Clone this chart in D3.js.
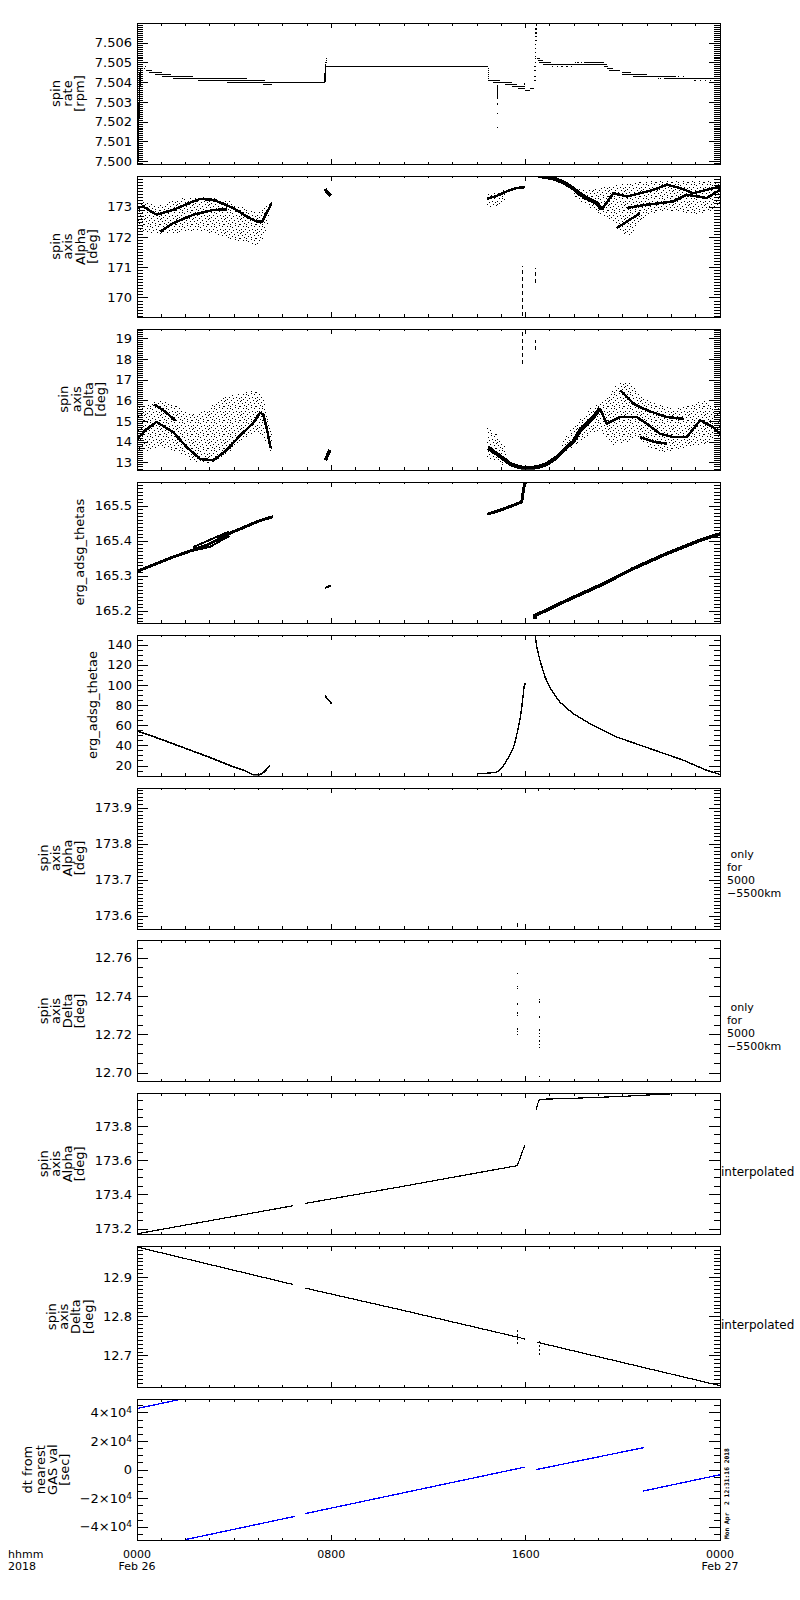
<!DOCTYPE html>
<html>
<head>
<meta charset="utf-8">
<script src="https://cdn.jsdelivr.net/npm/d3@7"></script>
<style>
  body { margin: 0; background: #fff; }
  svg { display: block; shape-rendering: crispEdges; }
  text { font-family: "DejaVu Sans", sans-serif; fill: #000; }
</style>
</head>
<body>
<script>
// time axis in hours from 2018-02-26 0000
const hourMajor = [0, 8, 16, 24];
const hourLabels = ["0000", "0800", "1600", "0000"];
const dayLabels = ["Feb 26", "", "", "Feb 27"];
const axisCaption = ["hhmm", "2018"];
const stamp = "Mon Apr  2 12:31:16 2018";

const titles = [
  ["spin", "rate", "[rpm]"],
  ["spin", "axis", "Alpha", "[deg]"],
  ["spin", "axis", "Delta", "[deg]"],
  ["erg_adsg_thetas"],
  ["erg_adsg_thetae"],
  ["spin", "axis", "Alpha", "[deg]"],
  ["spin", "axis", "Delta", "[deg]"],
  ["spin", "axis", "Alpha", "[deg]"],
  ["spin", "axis", "Delta", "[deg]"],
  ["dt from", "nearest", "GAS val", "[sec]"]
];
const sideLabels = [[], [], [], [], [],
  [" only", "for", "5000", "\u22125500km"],
  [" only", "for", "5000", "\u22125500km"],
  ["interpolated"], ["interpolated"], []];

const yDomains = [
  [7.49985, 7.507], [169.36, 174.01], [12.64, 19.45], [165.1655, 165.568], [10, 150],
  [173.564, 173.956], [12.6954, 12.769], [173.167, 173.99], [12.619, 12.979], [-49300, 49300]
];
const yTickValues = [
  [7.500, 7.501, 7.502, 7.503, 7.504, 7.505, 7.506],
  [170, 171, 172, 173],
  [13, 14, 15, 16, 17, 18, 19],
  [165.2, 165.3, 165.4, 165.5],
  [20, 40, 60, 80, 100, 120, 140],
  [173.6, 173.7, 173.8, 173.9],
  [12.70, 12.72, 12.74, 12.76],
  [173.2, 173.4, 173.6, 173.8],
  [12.7, 12.8, 12.9],
  [-40000, -20000, 0, 20000, 40000]
];
const yTickLabels = [
  ["7.500", "7.501", "7.502", "7.503", "7.504", "7.505", "7.506"],
  ["170", "171", "172", "173"],
  ["13", "14", "15", "16", "17", "18", "19"],
  ["165.2", "165.3", "165.4", "165.5"],
  ["20", "40", "60", "80", "100", "120", "140"],
  ["173.6", "173.7", "173.8", "173.9"],
  ["12.70", "12.72", "12.74", "12.76"],
  ["173.2", "173.4", "173.6", "173.8"],
  ["12.7", "12.8", "12.9"],
  ["\u22124\u00d710^4", "\u22122\u00d710^4", "0", "2\u00d710^4", "4\u00d710^4"]
];
const yMinorStep = [0.0001, 0.1, 0.1, 0.01, 5, 0.01, 0.005, 0.05, 0.01, 5000];

// panel 1: spin rate, quantised steps [from h, to h, rpm]
const rateSteps = [
  [0.36, 0.63, 7.5046], [0.49, 1.02, 7.5045], [0.74, 1.39, 7.5044], [1.02, 2.32, 7.5043],
  [1.49, 4.52, 7.5042], [2.52, 5.27, 7.5041], [3.69, 7.74, 7.5040], [5.2, 5.55, 7.5039],
  [7.76, 14.44, 7.5048],
  [14.46, 14.94, 7.5041], [14.67, 15.43, 7.5040], [15.15, 15.63, 7.5039], [15.43, 15.97, 7.5038],
  [15.7, 15.97, 7.5037], [15.97, 16.18, 7.5036], [16.18, 16.36, 7.5037],
  [16.45, 16.6, 7.5052], [16.5, 16.7, 7.5051], [16.55, 17.03, 7.5050], [16.73, 19.34, 7.5049],
  [18.4, 19.23, 7.5050], [19.23, 19.4, 7.5048], [19.34, 19.61, 7.5047], [19.45, 19.89, 7.5046],
  [19.95, 20.35, 7.5045], [19.95, 21.0, 7.5044], [20.43, 22.2, 7.5043], [21.7, 24, 7.5042]
];
const rateRamp = [[0.03, 7.4999], [0.08, 7.5025], [0.14, 7.5047]];
const rateJump = [[7.74, 7.5040], [7.76, 7.5049]];
const rateDots = [
  [0.35, 7.5048], [0.3, 7.5047],
  [7.78, 7.5050], [7.79, 7.5051], [7.8, 7.5052],
  [14.46, 7.5047], [14.46, 7.5046], [14.46, 7.5045], [14.46, 7.5044], [14.46, 7.5043], [14.46, 7.5042],
  [14.84, 7.5038], [14.84, 7.5037], [14.83, 7.5036], [14.83, 7.5035], [14.83, 7.5034], [14.83, 7.5033],
  [14.83, 7.5032], [14.83, 7.5029], [14.83, 7.5024], [14.83, 7.5017],
  [16.38, 7.5041], [16.38, 7.5043], [16.39, 7.5046], [16.39, 7.5048], [16.4, 7.5050], [16.4, 7.5052],
  [16.4, 7.5053], [16.41, 7.5055], [16.41, 7.5057], [16.41, 7.5059], [16.42, 7.5061], [16.42, 7.5063],
  [16.42, 7.5065], [16.43, 7.5067], [16.44, 7.5069],
  [17.1, 7.5048], [17.3, 7.5048], [17.5, 7.5048], [17.7, 7.5048], [17.9, 7.5048],
  [18.05, 7.5050], [18.15, 7.5050], [18.3, 7.5050], [15.95, 7.5039], [14.9, 7.5041],
  [20.5, 7.5044], [20.7, 7.5044], [22.3, 7.5043], [22.5, 7.5043], [21.46, 7.5042], [21.55, 7.5042],
  [22.97, 7.5041], [23.2, 7.5041], [23.4, 7.5041], [23.6, 7.5041], [23.8, 7.5041]
];

// panel 2: spin axis alpha, scatter clouds [h, low, high] and dense traces [h, deg]
const alphaCloudL = [[0.0, 172.2, 173.15], [0.25, 172.17, 173.17], [0.81, 172.05, 173.0], [1.22, 172.1, 173.1],
  [1.63, 172.12, 173.28], [2.6, 172.29, 173.33], [3.28, 172.01, 173.33], [3.96, 171.96, 173.15],
  [4.79, 171.68, 172.8], [5.2, 171.79, 172.9], [5.54, 172.95, 173.17]];
const alphaCoreL1 = [[0.0, 172.95], [0.25, 173.0], [0.81, 172.73], [1.49, 172.89], [2.32, 173.17], [2.6, 173.25],
  [3.15, 173.22], [3.96, 172.95], [4.52, 172.67], [4.93, 172.5], [5.15, 172.5], [5.54, 173.1]];
const alphaCoreL2 = [[0.95, 172.17], [1.49, 172.45], [2.32, 172.73], [3.15, 172.89], [3.7, 172.9]];
const alphaClump = [[7.74, 173.58], [7.85, 173.45], [7.98, 173.36]];
const alphaCloudR1 = [[14.4, 172.95, 173.4], [14.8, 172.95, 173.5], [15.22, 173.3, 173.55]];
const alphaCoreR1 = [[14.4, 173.25], [14.8, 173.35], [15.22, 173.5], [15.63, 173.61], [15.97, 173.64]];
const alphaCoreR2 = [[16.35, 174.05], [16.73, 173.98], [17.14, 173.93], [17.55, 173.8], [17.96, 173.6],
  [18.24, 173.4], [18.51, 173.28], [18.93, 173.11], [19.13, 172.9]];
const alphaCloudR2 = [[17.9, 173.4, 173.7], [18.24, 173.2, 173.55], [18.93, 172.78, 173.6], [19.34, 172.6, 173.66],
  [19.61, 172.56, 173.7], [19.89, 172.17, 173.75], [20.37, 171.96, 173.77], [20.71, 172.56, 173.8],
  [21.4, 172.8, 173.88], [21.81, 172.89, 173.85], [22.36, 172.85, 173.83], [23.18, 172.67, 173.88], [24, 173.0, 173.77]];
const alphaCoreR3 = [[19.13, 172.9], [19.61, 173.44], [20.16, 173.33], [20.71, 173.44], [21.26, 173.55],
  [21.81, 173.72], [22.36, 173.61], [22.9, 173.44], [23.45, 173.55], [24, 173.66]];
const alphaCoreR4 = [[20.16, 172.95], [20.98, 173.06], [21.53, 173.11], [22.08, 173.17], [22.63, 173.39],
  [23.45, 173.28], [24, 173.55]];
const alphaCoreR5 = [[19.75, 172.29], [20.71, 172.78]];
const alphaSpikes = [[15.85, 169.38, 171.03], [16.39, 170.48, 170.98]];

// panel 3: spin axis delta
const deltaCloudL = [[0.0, 13.4, 15.6], [0.25, 13.49, 15.76], [1.08, 13.8, 16.09], [1.63, 13.49, 15.7],
  [2.32, 13.0, 15.2], [3.0, 12.92, 15.6], [3.42, 13.2, 16.09], [3.96, 13.6, 16.25], [4.52, 14.3, 16.41],
  [4.93, 14.5, 16.57], [5.2, 14.3, 16.3], [5.54, 13.4, 14.63]];
const deltaCoreL1 = [[0.0, 14.1], [0.3, 14.5], [0.8, 14.95], [1.49, 14.46], [2.05, 13.73], [2.6, 13.16],
  [3.15, 13.1], [3.7, 13.6], [4.24, 14.3], [4.79, 14.9], [5.06, 15.4], [5.2, 15.3], [5.35, 14.6], [5.5, 13.7]];
const deltaCoreL2 = [[0.7, 15.8], [1.1, 15.5], [1.6, 15.0]];
const deltaClump = [[7.75, 13.1], [7.85, 13.35], [7.95, 13.6]];
const deltaCloudR1 = [[14.4, 13.2, 14.7], [15.0, 12.9, 14.3], [15.3, 12.8, 13.3]];
const deltaCoreR1 = [[14.45, 13.7], [14.7, 13.5], [15.01, 13.24], [15.36, 12.92], [15.77, 12.76], [16.04, 12.72],
  [16.46, 12.76], [16.87, 12.92], [17.28, 13.24], [17.69, 13.73], [17.96, 14.0], [18.24, 14.54],
  [18.51, 14.87], [18.79, 15.19], [19.06, 15.6]];
const deltaCloudR2 = [[17.5, 13.3, 14.0], [18.24, 14.1, 15.2], [19.06, 14.6, 16.0], [19.34, 14.22, 16.16],
  [19.61, 13.73, 16.5], [19.75, 13.9, 16.81], [20.3, 14.0, 16.98], [20.71, 14.22, 16.16], [20.98, 13.73, 16.0],
  [21.4, 13.6, 15.84], [21.81, 13.41, 15.7], [22.08, 13.6, 15.52], [22.63, 13.73, 15.7], [23.18, 13.8, 16.0],
  [23.45, 13.9, 15.95], [24, 14.2, 15.6]];
const deltaCoreR2 = [[19.06, 15.6], [19.34, 14.87], [19.89, 15.19], [20.57, 15.19], [20.98, 14.87], [21.53, 14.38],
  [22.08, 14.22], [22.63, 14.22], [23.18, 15.03], [23.72, 14.7], [24, 14.38]];
const deltaCoreR3 = [[19.89, 16.49], [20.43, 15.84], [20.98, 15.52], [21.81, 15.19], [22.5, 15.1]];
const deltaCoreR4 = [[20.71, 14.22], [21.26, 14.0], [21.81, 13.9]];
const deltaSpikes = [[15.85, 17.75, 19.4], [16.39, 18.42, 18.9]];

// panel 4: erg_adsg_thetas
const thetasA = [[0, 165.312], [1.49, 165.353], [2.87, 165.387], [3.96, 165.425], [5.06, 165.457], [5.6, 165.468]];
const thetasLensUp = [[2.3, 165.381], [3.2, 165.408], [3.8, 165.426]];
const thetasLensLo = [[2.3, 165.371], [3.0, 165.382], [3.8, 165.413]];
const thetasB = [[7.74, 165.265], [8.0, 165.272]];
const thetasC = [[14.42, 165.475], [15.0, 165.488], [15.5, 165.501], [15.84, 165.51], [15.9, 165.54],
  [15.94, 165.556], [15.99, 165.566]];
const thetasMark = [[15.99, 165.167], [15.99, 165.176]];
const thetasD = [[16.39, 165.176], [16.39, 165.186], [17.69, 165.229], [19.06, 165.272], [20.43, 165.32],
  [21.81, 165.363], [23.18, 165.401], [24, 165.419]];

// panel 5: erg_adsg_thetae
const thetaeA = [[0, 54.5], [1, 46], [2, 37], [3, 28], [3.83, 20], [4.38, 15.5], [4.79, 10.8], [5.05, 10.8],
  [5.25, 14], [5.47, 20]];
const thetaeB = [[7.74, 89.3], [7.85, 86], [8.02, 81.2]];
const thetaeC = [[14.05, 12], [14.4, 12.3], [14.81, 13.5], [15.0, 17], [15.22, 25], [15.4, 33], [15.5, 38.2],
  [15.6, 47], [15.7, 58], [15.78, 68], [15.84, 78], [15.9, 90], [15.93, 97.6], [15.99, 102]];
const thetaeD = [[16.39, 150], [16.46, 137.4], [16.59, 124.2], [16.8, 107.7], [17.07, 94.5], [17.41, 82.9],
  [17.96, 71.4], [18.65, 61.5], [19.75, 48.3], [21.12, 36.8], [22.5, 25.2], [23.39, 15.9], [24, 11]];

// panels 6 and 7: only for 5000-5500 km
const alphaNearMarks = [[16.54, 173.946, 173.956], [15.66, 173.567, 173.578]];
const deltaNearDots = [
  [15.66, 12.7516], [15.66, 12.7451], [15.66, 12.7438], [15.66, 12.7358], [15.66, 12.7311], [15.66, 12.7298],
  [15.66, 12.7228], [15.66, 12.7214], [15.66, 12.72],
  [16.57, 12.738], [16.57, 12.7368], [16.57, 12.7293], [16.57, 12.7287], [16.57, 12.7223], [16.57, 12.7205],
  [16.57, 12.7187], [16.57, 12.7165], [16.57, 12.7147], [16.57, 12.713], [16.57, 12.698]
];

// panels 8 and 9: interpolated
const alphaInterp1 = [[0, 173.17], [6.44, 173.334]];
const alphaInterp2 = [[6.92, 173.347], [10.83, 173.444], [15.66, 173.568], [15.97, 173.69]];
const alphaInterp3 = [[16.43, 173.896], [16.5, 173.93], [16.57, 173.955], [18, 173.961], [20, 173.972],
  [21.8, 173.986], [23.05, 173.99]];
const deltaInterp1 = [[0, 12.977], [6.44, 12.881]];
const deltaInterp2 = [[6.92, 12.872], [10.83, 12.817], [15.66, 12.747], [15.97, 12.742]];
const deltaInterp3 = [[16.46, 12.734], [24, 12.623]];
const deltaInterpMarks = [[15.66, 12.73, 12.768], [16.57, 12.70, 12.737]];

// panel 10: dt from nearest GAS value [sec]
const dtSegments = [
  [[0, 42700], [1.84, 49300]],
  [[1.98, -49000], [6.5, -32700]],
  [[6.92, -30800], [15.95, 1700]],
  [[16.43, 0], [20.87, 15400]],
  [[20.84, -15000], [24, -3600]]
];

// ---------------------------------------------------------------
const svg = d3.select("body").append("svg").attr("width", 800).attr("height", 1600);
const x = d3.scaleLinear().domain([0, 24]).range([137, 720]);
const panelH = 141;

// irregular stipple tile used for the scattered point clouds
const stipple = [[0, 0], [6, 0], [11, 1], [3, 2], [14, 2], [8, 3], [1, 5], [5, 5], [12, 5], [9, 6],
  [15, 6], [3, 7], [7, 8], [13, 8], [0, 9], [10, 10], [5, 10], [2, 11], [14, 11], [8, 12],
  [11, 13], [4, 13], [6, 2], [15, 0], [1, 8]];
const defs = svg.append("defs");
const pat = defs.append("pattern").attr("id", "stip").attr("patternUnits", "userSpaceOnUse")
  .attr("width", 16).attr("height", 14);
stipple.forEach(([a, b]) => pat.append("rect").attr("x", a).attr("y", b)
  .attr("width", 1).attr("height", 1).attr("fill", "#000"));

// multi-line text block as one <text> with tspans
function block(sel, lines, gap) {
  lines.forEach((s, k) => {
    sel.append("tspan").attr("x", sel.attr("x") || 0).attr("dy", k === 0 ? "0.36em" : gap).text(s);
  });
  return sel;
}

const frames = titles.map((title, i) => {
  const top = 23 + i * 152.9;
  const bottom = top + panelH;
  const y = d3.scaleLinear().domain(yDomains[i]).range([bottom, top]);
  const g = svg.append("g");

  defs.append("clipPath").attr("id", "clip" + i)
    .append("rect").attr("x", 137).attr("y", top).attr("width", 583).attr("height", panelH);
  const plot = g.append("g").attr("clip-path", `url(#clip${i})`);

  // x ticks, top and bottom, pointing inward
  const hours = d3.range(0, 25);
  [[bottom, -1], [top, 1]].forEach(([yy, dir]) => {
    g.selectAll(null).data(hours).enter().append("line")
      .attr("x1", d => x(d)).attr("x2", d => x(d))
      .attr("y1", yy).attr("y2", d => yy + dir * (d % 8 === 0 ? 5 : 2.5))
      .attr("stroke", "#000");
  });

  // y ticks, left and right
  const [d0, d1] = yDomains[i];
  const step = yMinorStep[i];
  const minors = d3.range(Math.ceil(d0 / step - 1e-6), Math.floor(d1 / step + 1e-6) + 1).map(k => k * step);
  [[137, 1], [720, -1]].forEach(([xx, dir]) => {
    g.selectAll(null).data(minors).enter().append("line")
      .attr("x1", xx).attr("x2", xx + dir * 6)
      .attr("y1", d => Math.round(y(d)) + 0.5).attr("y2", d => Math.round(y(d)) + 0.5)
      .attr("stroke", "#000");
    g.selectAll(null).data(yTickValues[i]).enter().append("line")
      .attr("x1", xx).attr("x2", xx + dir * 11)
      .attr("y1", d => Math.round(y(d)) + 0.5).attr("y2", d => Math.round(y(d)) + 0.5)
      .attr("stroke", "#000");
  });

  g.append("rect").attr("x", 137.5).attr("y", Math.round(top) + 0.5)
    .attr("width", 583).attr("height", panelH)
    .attr("fill", "none").attr("stroke", "#000");

  // tick labels
  const labels = g.append("g");
  yTickValues[i].forEach((v, k) => {
    const s = yTickLabels[i][k];
    const t = labels.append("text").attr("x", 132).attr("y", y(v)).attr("dy", "0.36em")
      .attr("text-anchor", "end").style("font-size", "13px");
    if (s.includes("^")) {
      const [base, sup] = s.split("^");
      t.append("tspan").text(base);
      t.append("tspan").attr("dy", "-0.45em").style("font-size", "9px").text(sup);
    } else {
      t.text(s);
    }
  });
  const tickLeft = labels.node().getBBox().x;

  // rotated title, stacked lines
  const cy = top + panelH / 2;
  const firstX = tickLeft - 15 - (title.length - 1) * 12.3;
  const tt = g.append("text").attr("transform", `translate(${firstX},${cy}) rotate(-90)`)
    .attr("text-anchor", "middle").style("font-size", "13px");
  block(tt, title, 12.3);

  // right-hand notes
  const side = sideLabels[i];
  if (side.length === 1) {
    g.append("text").attr("x", 721).attr("y", cy + 8).attr("dy", "0.36em")
      .style("font-size", "12px").text(side[0]);
  } else if (side.length) {
    const st = g.append("text").attr("x", 727).attr("y", cy - 4)
      .style("font-size", "11px").style("white-space", "pre");
    block(st, side, 12.9);
  }

  return { plot, y };
});

// ---------------------------------------------------------------
function path(f, data, w, color) {
  const line = d3.line().x(d => x(d[0])).y(d => f.y(d[1]));
  f.plot.append("path").attr("d", line(data)).attr("fill", "none")
    .attr("stroke", color || "#000").attr("stroke-width", w || 1);
}
function band(f, data) {
  const area = d3.area().curve(d3.curveBasis)
    .x(d => x(d[0])).y0(d => f.y(d[1])).y1(d => f.y(d[2]));
  f.plot.append("path").attr("d", area(data)).attr("fill", "url(#stip)");
}
function dots(f, data, s) {
  f.plot.selectAll(null).data(data).enter().append("rect")
    .attr("x", d => x(d[0]) - s / 2).attr("y", d => f.y(d[1]) - s / 2)
    .attr("width", s).attr("height", s).attr("fill", "#000");
}
function steps(f, data) {
  f.plot.selectAll(null).data(data).enter().append("line")
    .attr("x1", d => x(d[0])).attr("x2", d => x(d[1]))
    .attr("y1", d => Math.round(f.y(d[2])) + 0.5).attr("y2", d => Math.round(f.y(d[2])) + 0.5)
    .attr("stroke", "#000");
}
function verts(f, data, dash, w) {
  f.plot.selectAll(null).data(data).enter().append("line")
    .attr("x1", d => x(d[0])).attr("x2", d => x(d[0]))
    .attr("y1", d => f.y(d[1])).attr("y2", d => f.y(d[2]))
    .attr("stroke", "#000").attr("stroke-width", w || 1)
    .attr("stroke-dasharray", dash || null);
}

// panel 1
steps(frames[0], rateSteps);
path(frames[0], rateRamp, 1.5);
path(frames[0], rateJump, 1.5);
dots(frames[0], rateDots, 1.3);

// panel 2
[alphaCloudL, alphaCloudR1, alphaCloudR2].forEach(c => band(frames[1], c));
[alphaCoreL1, alphaCoreL2, alphaCoreR1, alphaCoreR3, alphaCoreR4, alphaCoreR5].forEach(c => path(frames[1], c, 2.5));
path(frames[1], alphaCoreR2, 4);
path(frames[1], alphaClump, 3.5);
verts(frames[1], alphaSpikes, "4,3");

// panel 3
[deltaCloudL, deltaCloudR1, deltaCloudR2].forEach(c => band(frames[2], c));
[deltaCoreL1, deltaCoreL2, deltaCoreR2, deltaCoreR3, deltaCoreR4].forEach(c => path(frames[2], c, 2.5));
path(frames[2], deltaCoreR1, 4);
path(frames[2], deltaClump, 3.5);
verts(frames[2], deltaSpikes, "4,3");

// panel 4
path(frames[3], thetasA, 3);
path(frames[3], thetasLensUp, 2);
path(frames[3], thetasLensLo, 2);
path(frames[3], thetasB, 2);
path(frames[3], thetasC, 3);
path(frames[3], thetasMark, 1);
path(frames[3], thetasD, 3.5);

// panel 5
path(frames[4], thetaeA, 1.6);
path(frames[4], thetaeB, 1.6);
path(frames[4], thetaeC, 1.4);
path(frames[4], thetaeD, 1.4);

// panels 6, 7
verts(frames[5], alphaNearMarks);
dots(frames[6], deltaNearDots, 1.3);

// panels 8, 9
[alphaInterp1, alphaInterp2, alphaInterp3].forEach(c => path(frames[7], c, 1.2));
[deltaInterp1, deltaInterp2, deltaInterp3].forEach(c => path(frames[8], c, 1.2));
verts(frames[8], deltaInterpMarks, "2,2");

// panel 10
dtSegments.forEach(s => path(frames[9], s, 1.3, "#0000ff"));

// bottom time labels
const base = 23 + 9 * 152.9 + panelH;
hourMajor.forEach((h, k) => {
  const t = svg.append("text").attr("x", x(h)).attr("y", base + 13.5)
    .attr("text-anchor", "middle").style("font-size", "11px");
  block(t, dayLabels[k] ? [hourLabels[k], dayLabels[k]] : [hourLabels[k]], 12.9);
});
block(svg.append("text").attr("x", 8).attr("y", base + 13.5).style("font-size", "11px"), axisCaption, 12.9);

// run time stamp, rotated along the right edge of the last panel
svg.append("text").attr("transform", `translate(728.5,${base - 1}) rotate(-90)`)
  .style("font-family", "'DejaVu Sans Mono', monospace").style("font-size", "6.3px")
  .style("font-weight", "bold").style("white-space", "pre").text(stamp);
</script>
</body>
</html>
